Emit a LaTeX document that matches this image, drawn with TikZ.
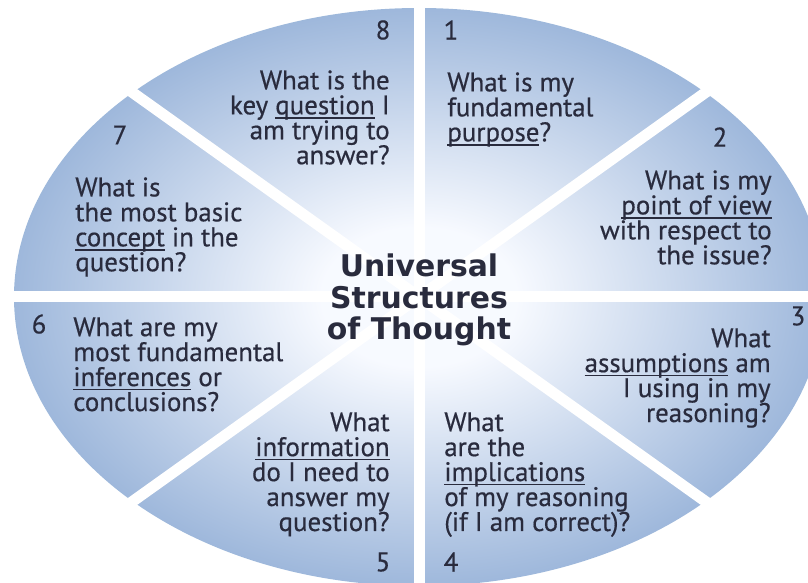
\documentclass[tikz,border=0pt]{standalone}
\usepackage{fontspec}
\setmainfont{PT Sans}
\newfontfamily\qfont[FakeBold=0.5]{PT Sans}
\newfontfamily\titlefont{DejaVu Sans}
\newcommand\qtext{\qfont\fontsize{15.3}{14.2}\selectfont\lineskiplimit-20pt\relax}
\newcommand\keyword[1]{\setbox0\hbox{#1}\rlap{\rule[-2.4pt]{\wd0}{0.9pt}}\box0\relax}
\definecolor{pieedge}{rgb}{0.62, 0.72, 0.86}
\definecolor{piemid}{rgb}{0.97, 0.98, 1}
\definecolor{ink}{rgb}{0.16, 0.17, 0.24}
\pgfdeclareradialshading{pie}{\pgfpoint{0bp}{0bp}}{color(0bp)=(piemid); color(6bp)=(piemid); color(25bp)=(pieedge); color(50bp)=(pieedge)}
\tikzset{
  question/.style={inner sep=0pt, text=ink, font=\qtext},
  num/.style={inner sep=0pt, text=ink, font=\qtext},
  gap/.style={white, line width=2.2mm}
}

\begin{document}
\begin{tikzpicture}[x=0.2mm, y=-0.2mm]
\useasboundingbox (0, 0) rectangle (808, 583);
\clip (0, 0) rectangle (808, 583);
\shade [shading=pie] (419, 297) ellipse (81mm and 57.8mm);
% white gaps between the eight pieces
\draw [gap] (419, 297) -- (419, -20);
\draw [gap] (419, 297) -- (419, 620);
\draw [gap] (419, 297) -- (-20, 297);
\draw [gap] (419, 297) -- (840, 297);
\draw [gap] (419, 297) -- (762.7, 51.7);
\draw [gap] (419, 297) -- (75.3, 51.7);
\draw [gap] (419, 297) -- (762.7, 542.3);
\draw [gap] (419, 297) -- (75.3, 542.3);
% numbers
\node [num] (n1) at (451, 30) {1};
\node [num] (n2) at (720, 137) {2};
\node [num] (n3) at (798, 316) {3};
\node [num] (n4) at (451, 562) {4};
\node [num] (n5) at (383, 562) {5};
\node [num] (n6) at (39, 324) {6};
\node [num] (n7) at (120, 135) {7};
\node [num] (n8) at (383, 30) {8};
% questions
\node [question, align=left, anchor=north west] (q1) at (447, 72) {What is my\\fundamental\\\keyword{purpose}?};
\node [question, align=right, anchor=north east] (q2) at (772, 170) {What is my\\\keyword{point of view}\\with respect to\\the issue?};
\node [question, align=right, anchor=north east] (q3) at (771, 328) {What\\\keyword{assumptions} am\\I using in my\\reasoning?};
\node [question, align=left, anchor=north west] (q4) at (444, 412) {What\\are the\\\keyword{implications}\\of my reasoning\\(if I am correct)?};
\node [question, align=right, anchor=north east] (q5) at (390, 412) {What\\\keyword{information}\\do I need to\\answer my\\question?};
\node [question, align=left, anchor=north west] (q6) at (73, 317) {What are my\\most fundamental\\\keyword{inferences} or\\conclusions?};
\node [question, align=left, anchor=north west] (q7) at (75, 177) {What is\\the most basic\\\keyword{concept} in the\\question?};
\node [question, align=right, anchor=north east] (q8) at (390, 70) {What is the\\key \keyword{question} I\\am trying to\\answer?};
% centre
\node [inner sep=0pt, text=ink, align=center, font={\titlefont\bfseries\fontsize{17}{18}\selectfont}] (title) at (419, 300) {Universal\\Structures\\of Thought};
\end{tikzpicture}
\end{document}
